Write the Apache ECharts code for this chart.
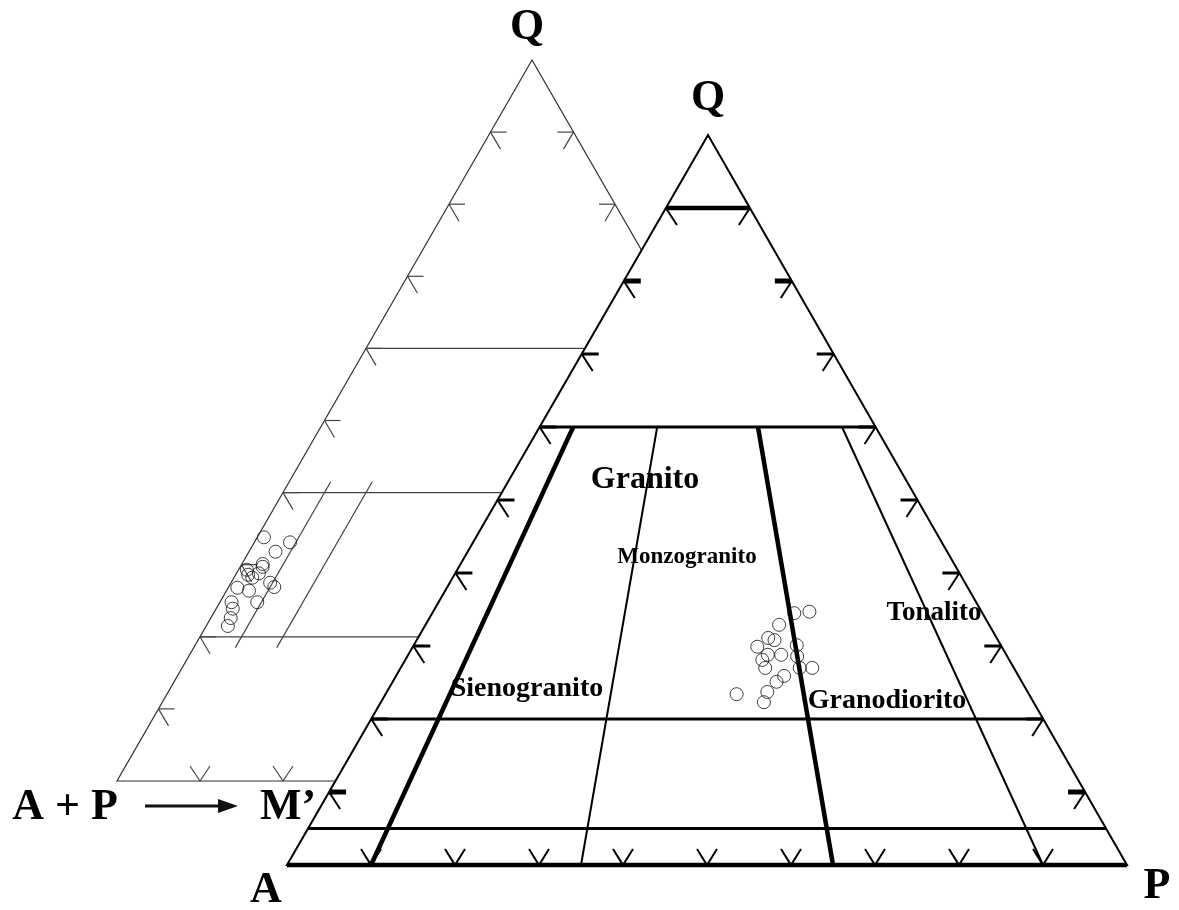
<!DOCTYPE html>
<html>
<head>
<meta charset="utf-8">
<script src="https://cdn.jsdelivr.net/npm/echarts@6/dist/echarts.min.js"></script>
<style>
  html, body { margin: 0; padding: 0; background: #fff; }
  #chart { width: 1179px; height: 910px; }
</style>
</head>
<body>
<div id="chart"></div>
<script>
// ---- data (percentages) ----
// main QAP triangle: field boundaries
const qBoundaries = [90, 60, 20, 5]
const pRatioBoundaries = [10, 35, 65, 90] // P/(A+P)
const heavyRatios = [10, 65]
const edgeTicks = [10, 20, 30, 40, 50, 60, 70, 80, 90]
const heavyTicks = [10, 80]

// samples in QAP
const sampleQ = [34.5, 34.7, 32.9, 31.1, 30.8, 29.9, 28.8, 28.8, 30.1, 28.6, 27.0, 27.0, 27.0, 25.9, 25.1, 23.7, 23.4, 22.3, 28.1]
const sampleP = [43.1, 44.8, 42.1, 41.7, 42.6, 41.0, 42.8, 44.4, 45.6, 46.4, 43.4, 47.5, 49.0, 46.2, 45.7, 45.3, 41.8, 45.6, 42.5]

// Q-(A+P)-M' triangle
const mqLines = [60, 40, 20]
const mLines = [5, 10]
const mLineRange = [41.5, 18.5]
const sampleQm = [33.8, 33.1, 31.8, 30.1, 29.7, 29.3, 28.6, 28.2, 28.8, 27.5, 26.9, 26.8, 26.4, 24.8, 24.8, 23.9, 22.6, 21.5]
const sampleM = [0.8, 4.3, 3.2, 2.5, 2.7, 1.0, 1.5, 2.2, 2.7, 4.7, 5.5, 1.1, 2.7, 4.5, 1.4, 2.0, 2.4, 2.6]

// field names
const fieldNames = ['Granito', 'Monzogranito', 'Sienogranito', 'Granodiorito', 'Tonalito']

// ---- layout ----
const mainV = { a: [287, 865], p: [1127, 865], q: [708, 135] }
const leftV = { a: [117, 781], p: [947, 781], q: [532, 60] }

// barycentric -> plane (q, p in %)
function tern(v, q, p) {
  const a = 100 - q - p
  return [
    (a * v.a[0] + p * v.p[0] + q * v.q[0]) / 100,
    (a * v.a[1] + p * v.p[1] + q * v.q[1]) / 100
  ]
}

function segSeries(segs, width, color, z) {
  return {
    type: 'custom',
    coordinateSystem: 'cartesian2d',
    silent: true,
    z: z,
    clip: false,
    data: segs.map(s => s[0]),
    renderItem: (params, api) => {
      const s = segs[params.dataIndex]
      return {
        type: 'polyline',
        shape: { points: s.map(pt => api.coord(pt)) },
        style: { stroke: color, lineWidth: width, fill: null }
      }
    }
  }
}

function polySeries(pts, fill, stroke, width, z) {
  return {
    type: 'custom',
    coordinateSystem: 'cartesian2d',
    silent: true,
    z: z,
    clip: false,
    data: [pts[0]],
    renderItem: (params, api) => ({
      type: 'polygon',
      shape: { points: pts.map(pt => api.coord(pt)) },
      style: { fill: fill, stroke: stroke, lineWidth: width }
    })
  }
}

// tick marks: arms in px around a vertex
function leftTick(v, len, d) { return [[[v[0] + len, v[1]], v], [v, [v[0] + d[0], v[1] + d[1]]]] }
function rightTick(v, len, d) { return [[[v[0] - len, v[1]], v], [v, [v[0] - d[0], v[1] + d[1]]]] }
function baseTick(v, d) { return [[[v[0] - d[0], v[1] - d[1]], v, [v[0] + d[0], v[1] - d[1]]]] }

// ---- left (Q - A+P - M') triangle ----
const leftOutline = [tern(leftV, 100, 0), tern(leftV, 0, 0), tern(leftV, 0, 100)]
const leftSegs = []
mqLines.forEach(q => leftSegs.push([tern(leftV, q, 0), tern(leftV, q, 100 - q)]))
mLines.forEach(m => leftSegs.push([tern(leftV, mLineRange[0], m), tern(leftV, mLineRange[1], m)]))
edgeTicks.forEach(t => {
  leftTick(tern(leftV, t, 0), 16, [10, 17]).forEach(s => leftSegs.push(s))
  rightTick(tern(leftV, t, 100 - t), 16, [10, 17]).forEach(s => leftSegs.push(s))
  baseTick(tern(leftV, 0, t), [10, 15]).forEach(s => leftSegs.push(s))
})
const leftPts = sampleQm.map((q, i) => tern(leftV, q, sampleM[i]))

// ---- main QAP triangle ----
const mainOutline = [mainV.q, mainV.a, mainV.p]
const thinSegs = []
const midSegs = []
const thickSegs = []
qBoundaries.forEach(q => {
  const s = [tern(mainV, q, 0), tern(mainV, q, 100 - q)]
  if (q === 90) thickSegs.push(s); else midSegs.push(s)
})
thickSegs.push([mainV.a, mainV.p])
pRatioBoundaries.forEach(r => {
  const s = [tern(mainV, 0, r), tern(mainV, 60, r * 0.4)]
  if (heavyRatios.includes(r)) thickSegs.push(s); else thinSegs.push(s)
})
const tickArms = []
const tickBars = []
const tickBarsHeavy = []
edgeTicks.forEach(t => {
  const l = leftTick(tern(mainV, t, 0), 17, [11, 17])
  const r = rightTick(tern(mainV, t, 100 - t), 17, [11, 17])
  const bars = heavyTicks.includes(t) ? tickBarsHeavy : tickBars
  bars.push(l[0], r[0])
  tickArms.push(l[1], r[1])
  baseTick(tern(mainV, 0, t), [10, 16]).forEach(s => tickArms.push(s))
})
const mainPts = sampleQ.map((q, i) => tern(mainV, q, sampleP[i]))

const chart = echarts.init(document.getElementById('chart'))
const font = '"Liberation Serif", "Times New Roman", serif'
function txt(s, x, y, size) {
  return {
    type: 'text', x: x, y: y, z: 100,
    style: {
      text: s, fill: '#000', font: 'bold ' + size + 'px ' + font,
      align: 'center', verticalAlign: 'middle', textAlign: 'center', textVerticalAlign: 'middle'
    }
  }
}
const labelPos = [[645, 480, 32], [687, 557, 23], [527, 689, 28], [887, 701, 28], [934, 613, 27]]

chart.setOption({
  animation: false,
  backgroundColor: '#fff',
  grid: { left: 0, right: 0, top: 0, bottom: 0 },
  xAxis: { type: 'value', min: 0, max: 1179, show: false },
  yAxis: { type: 'value', min: 0, max: 910, inverse: true, show: false },
  graphic: [
    txt('Q', 527, 28, 44),
    txt('Q', 708, 99, 44),
    txt('A', 266, 891, 44),
    txt('P', 1157, 887, 44),
    txt('A + P', 65, 808, 44),
    txt('M\u2019', 288, 808, 44),
    {
      type: 'line', z: 100,
      shape: { x1: 145, y1: 806, x2: 224, y2: 806 },
      style: { stroke: '#111', lineWidth: 3 }
    },
    {
      type: 'polygon', z: 100,
      shape: { points: [[218, 799], [238, 806], [218, 813]] },
      style: { fill: '#111' }
    }
  ].concat(fieldNames.map((n, i) => txt(n, labelPos[i][0], labelPos[i][1], labelPos[i][2]))),
  series: [
    polySeries(leftOutline, null, '#333', 1.2, 1),
    segSeries(leftSegs, 1.2, '#444', 1),
    {
      type: 'scatter', z: 1, silent: true,
      symbol: 'circle', symbolSize: 13,
      itemStyle: { color: 'rgba(0,0,0,0)', borderColor: '#111', borderWidth: 1 },
      data: leftPts
    },
    polySeries(mainOutline, '#fff', '#000', 2, 2),
    segSeries(thinSegs, 2, '#000', 3),
    segSeries(midSegs, 3, '#000', 3),
    segSeries(thickSegs, 4.5, '#000', 3),
    segSeries(tickArms, 2, '#000', 3),
    segSeries(tickBars, 3, '#000', 3),
    segSeries(tickBarsHeavy, 5, '#000', 3),
    {
      type: 'scatter', z: 4, silent: true,
      symbol: 'circle', symbolSize: 13,
      itemStyle: { color: 'rgba(0,0,0,0)', borderColor: '#111', borderWidth: 1 },
      data: mainPts
    }
  ]
})
</script>
</body>
</html>
